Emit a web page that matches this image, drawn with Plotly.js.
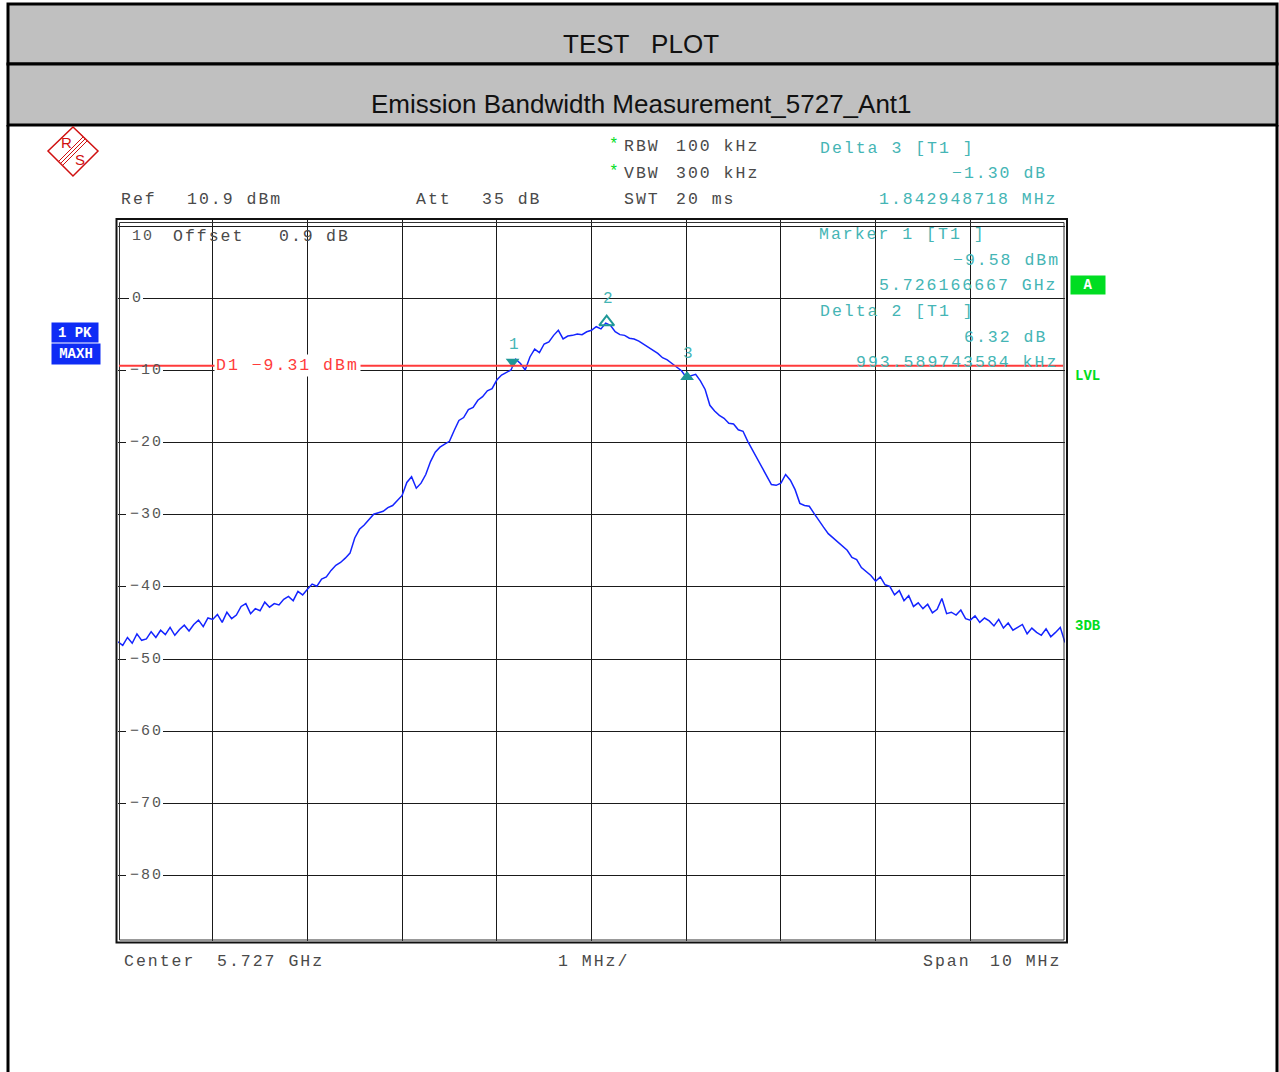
<!DOCTYPE html>
<html>
<head>
<meta charset="utf-8">
<script src="https://cdn.plot.ly/plotly-3.0.1.min.js"></script>
<style>
html, body { margin: 0; padding: 0; background: #fff; }
#chart { width: 1279px; height: 1072px; }
</style>
</head>
<body>
<div id="chart"></div>
<script>
// Sweep: frequency offset from centre (MHz) and peak-hold level (dBm)
const centerGHz = 5.727;
const offsetMHz = [
  -5.00, -4.95, -4.90, -4.85, -4.80, -4.75, -4.70, -4.65, -4.60, -4.55,
  -4.50, -4.45, -4.40, -4.35, -4.30, -4.25, -4.20, -4.15, -4.10, -4.05,
  -4.00, -3.95, -3.90, -3.85, -3.80, -3.75, -3.70, -3.65, -3.60, -3.55,
  -3.50, -3.45, -3.40, -3.35, -3.30, -3.25, -3.20, -3.15, -3.10, -3.05,
  -3.00, -2.95, -2.90, -2.85, -2.80, -2.75, -2.70, -2.65, -2.60, -2.55,
  -2.50, -2.45, -2.40, -2.35, -2.30, -2.25, -2.20, -2.15, -2.10, -2.05,
  -2.00, -1.95, -1.90, -1.85, -1.80, -1.75, -1.70, -1.65, -1.60, -1.55,
  -1.50, -1.45, -1.40, -1.35, -1.30, -1.25, -1.20, -1.15, -1.10, -1.05,
  -1.00, -0.95, -0.90, -0.85, -0.80, -0.75, -0.70, -0.65, -0.60, -0.55,
  -0.50, -0.45, -0.40, -0.35, -0.30, -0.25, -0.20, -0.15, -0.10, -0.05,
   0.00,  0.05,  0.10,  0.15,  0.20,  0.25,  0.30,  0.35,  0.40,  0.45,
   0.50,  0.55,  0.60,  0.65,  0.70,  0.75,  0.80,  0.85,  0.90,  0.95,
   1.00,  1.05,  1.10,  1.15,  1.20,  1.25,  1.30,  1.35,  1.40,  1.45,
   1.50,  1.55,  1.60,  1.65,  1.70,  1.75,  1.80,  1.85,  1.90,  1.95,
   2.00,  2.05,  2.10,  2.15,  2.20,  2.25,  2.30,  2.35,  2.40,  2.45,
   2.50,  2.55,  2.60,  2.65,  2.70,  2.75,  2.80,  2.85,  2.90,  2.95,
   3.00,  3.05,  3.10,  3.15,  3.20,  3.25,  3.30,  3.35,  3.40,  3.45,
   3.50,  3.55,  3.60,  3.65,  3.70,  3.75,  3.80,  3.85,  3.90,  3.95,
   4.00,  4.05,  4.10,  4.15,  4.20,  4.25,  4.30,  4.35,  4.40,  4.45,
   4.50,  4.55,  4.60,  4.65,  4.70,  4.75,  4.80,  4.85,  4.90,  4.95,
   5.00
];
const levelDbm = [
  -47.6, -48.1, -47.0, -47.8, -46.5, -47.4, -47.2, -46.2, -47.0, -46.0,
  -46.6, -45.6, -46.7, -45.9, -45.3, -46.1, -45.2, -44.6, -45.5, -44.3,
  -44.5, -43.8, -44.9, -43.5, -44.4, -43.9, -42.7, -42.3, -43.7, -43.0,
  -43.3, -42.1, -42.8, -42.3, -42.5, -41.7, -41.3, -41.9, -40.6, -41.1,
  -40.3, -39.6, -39.9, -38.9, -38.6, -37.7, -37.0, -36.6, -36.0, -35.3,
  -33.2, -32.0, -31.4, -30.6, -29.9, -29.7, -29.5, -29.0, -28.7, -28.0,
  -27.3, -25.5, -24.7, -26.3, -25.6, -24.4, -22.6, -21.3, -20.6, -20.2,
  -19.8, -18.3, -16.9, -16.5, -15.4, -15.1, -14.1, -13.6, -12.8, -12.5,
  -11.3, -10.6, -10.3, -9.9, -8.4, -9.0, -9.9, -8.1, -7.0, -7.5,
  -6.3, -6.0, -5.1, -4.4, -5.6, -5.2, -5.1, -4.9, -5.0, -4.6,
  -4.4, -3.9, -4.2, -3.4, -3.7, -4.6, -5.0, -5.1, -5.5, -5.6,
  -5.9, -6.3, -6.7, -7.1, -7.6, -8.2, -8.5, -9.0, -9.5, -10.0,
  -10.9, -10.7, -10.5, -11.4, -12.6, -14.8, -15.6, -16.2, -16.6, -17.3,
  -17.4, -18.2, -18.4, -19.8, -21.0, -22.3, -23.6, -24.6, -25.8, -25.9,
  -25.6, -24.4, -25.2, -26.5, -28.4, -28.7, -28.8, -29.8, -30.8, -31.7,
  -32.6, -33.2, -33.8, -34.3, -34.9, -35.9, -36.2, -37.3, -37.9, -38.4,
  -39.2, -38.6, -39.7, -39.9, -41.1, -40.5, -41.9, -41.2, -42.7, -42.2,
  -43.0, -42.4, -43.6, -43.1, -41.6, -43.7, -43.5, -43.9, -43.2, -44.4,
  -44.6, -44.0, -44.9, -44.3, -44.7, -45.4, -44.5, -45.7, -45.0, -46.0,
  -45.6, -45.2, -46.5, -45.7, -46.3, -46.7, -45.8, -46.9, -46.3, -45.6,
  -47.7
];

// Display settings
const refLevel = 10.9;
const bottomLevel = -89.1;
const spanMHz = 10;
const displayLine = -9.31;
const yTickVals = [10, 0, -10, -20, -30, -40, -50, -60, -70, -80];
const yTickText = ['10', '0', '\u221210', '\u221220', '\u221230', '\u221240', '\u221250', '\u221260', '\u221270', '\u221280'];

// Markers
const marker1 = { fGHz: 5.726166667, dbm: -9.58 };
const delta2 = { dfMHz: 0.993589743584, ddb: 6.32 };
const delta3 = { dfMHz: 1.842948718, ddb: -1.30 };

const freqGHz = offsetMHz.map(o => centerGHz + o / 1000);
const m2 = { fGHz: marker1.fGHz + delta2.dfMHz / 1000, dbm: marker1.dbm + delta2.ddb };
const m3 = { fGHz: marker1.fGHz + delta3.dfMHz / 1000, dbm: marker1.dbm + delta3.ddb };

// Page geometry (pixels) and conversion to paper coordinates
const W = 1279, H = 1072;
const L = 118, R = 1065, T = 220, B = 941;
const px = x => (x - L) / (R - L);
const py = y => (B - y) / (B - T);

const MONO = 'Liberation Mono, Courier New, monospace';
const SANS = 'Liberation Sans, Arial, sans-serif';
const GREY = '#4a4a4a';
const TEAL = '#45b5b5';
const TEAL_DARK = '#1f9898';
const RED = '#ff3b3b';
const GREEN = '#00dd22';
const BLUE = '#0f2cf5';

const sp = s => '<span style="letter-spacing:2px">' + s + '</span>';

function txt(text, x, y, opt) {
  opt = opt || {};
  return Object.assign({
    text: text,
    xref: 'paper', yref: 'paper',
    x: px(x), y: py(y),
    xanchor: 'left', yanchor: 'middle',
    showarrow: false,
    font: { family: MONO, size: 16.5, color: GREY }
  }, opt);
}

const annotations = [
  // header titles
  txt('TEST\u00a0\u00a0\u00a0PLOT', 641, 44, { xanchor: 'center', font: { family: SANS, size: 26, color: '#111' } }),
  txt('Emission Bandwidth Measurement_5727_Ant1', 641, 104, { xanchor: 'center', font: { family: SANS, size: 26, color: '#111' } }),

  // instrument settings
  txt(sp('Ref'), 119, 199), txt(sp('10.9 dBm'), 185, 199),
  txt(sp('Att'), 414, 199), txt(sp('35 dB'), 480, 199),
  txt('*', 607, 145, { font: { family: MONO, size: 16, color: GREEN } }),
  txt('*', 607, 172, { font: { family: MONO, size: 16, color: GREEN } }),
  txt(sp('RBW'), 622, 146), txt(sp('100 kHz'), 674, 146),
  txt(sp('VBW'), 622, 173), txt(sp('300 kHz'), 674, 173),
  txt(sp('SWT'), 622, 199), txt(sp('20 ms'), 674, 199),
  txt(sp('Center'), 122, 961), txt(sp('5.727 GHz'), 215, 961),
  txt(sp('1 MHz/'), 556, 961),
  txt(sp('Span'), 921, 961), txt(sp('10 MHz'), 988, 961),
  txt(sp('Offset'), 171, 236), txt(sp('0.9'), 277, 236), txt(sp('dB'), 324, 236),

  // marker readouts
  txt(sp('Delta 3 [T1 ]'), 818, 148, { font: { family: MONO, size: 16.5, color: TEAL } }),
  txt(sp('\u22121.30 dB'), 1049, 173, { xanchor: 'right', font: { family: MONO, size: 16.5, color: TEAL } }),
  txt(sp('1.842948718 MHz'), 1060, 199, { xanchor: 'right', font: { family: MONO, size: 16.5, color: TEAL } }),
  txt(sp('Marker 1 [T1 ]'), 817, 234, { font: { family: MONO, size: 16.5, color: TEAL } }),
  txt(sp('\u22129.58 dBm'), 1062, 260, { xanchor: 'right', font: { family: MONO, size: 16.5, color: TEAL } }),
  txt(sp('5.726166667 GHz'), 1060, 285, { xanchor: 'right', font: { family: MONO, size: 16.5, color: TEAL } }),
  txt(sp('Delta 2 [T1 ]'), 818, 311, { font: { family: MONO, size: 16.5, color: TEAL } }),
  txt(sp('6.32 dB'), 1049, 337, { xanchor: 'right', font: { family: MONO, size: 16.5, color: TEAL } }),
  txt(sp('993.589743584 kHz'), 1060, 362, { xanchor: 'right', font: { family: MONO, size: 16.5, color: TEAL } }),

  // trace / status badges
  txt('<b>1 PK</b>', 75, 332, { xanchor: 'center', width: 46, height: 19, bgcolor: BLUE, borderpad: 0,
    font: { family: MONO, size: 14, color: '#fff' } }),
  txt('<b>MAXH</b>', 76, 354, { xanchor: 'center', width: 48, height: 20, bgcolor: BLUE, borderpad: 0,
    font: { family: MONO, size: 14, color: '#fff' } }),
  txt('<b>A</b>', 1088, 285, { xanchor: 'center', width: 34, height: 18, bgcolor: GREEN, borderpad: 0,
    font: { family: MONO, size: 14, color: '#fff' } }),
  txt('<b>LVL</b>', 1073, 376, { font: { family: MONO, size: 14, color: GREEN } }),
  txt('<b>3DB</b>', 1073, 626, { font: { family: MONO, size: 14, color: GREEN } }),

  // display line label
  txt(sp('D1 \u22129.31 dBm'), 214, 0, { yref: 'y', y: displayLine, bgcolor: '#fff', borderpad: 1,
    font: { family: MONO, size: 16.5, color: RED } }),

  // logo letters
  txt('R', 66, 142, { xanchor: 'center', font: { family: SANS, size: 15, color: '#d01010' } }),
  txt('S', 80, 159, { xanchor: 'center', font: { family: SANS, size: 15, color: '#d01010' } })
];

const shapes = [
  // header boxes
  { type: 'rect', xref: 'paper', yref: 'paper', x0: px(8), x1: px(1277), y0: py(64), y1: py(4),
    fillcolor: '#c0c0c0', line: { color: '#000', width: 3 }, layer: 'below' },
  { type: 'rect', xref: 'paper', yref: 'paper', x0: px(8), x1: px(1277), y0: py(125), y1: py(64),
    fillcolor: '#c0c0c0', line: { color: '#000', width: 3 }, layer: 'below' },
  { type: 'line', xref: 'paper', yref: 'paper', x0: px(8), x1: px(8), y0: py(125), y1: py(1080),
    line: { color: '#000', width: 3 } },
  { type: 'line', xref: 'paper', yref: 'paper', x0: px(1277), x1: px(1277), y0: py(125), y1: py(1080),
    line: { color: '#000', width: 3 } },

  // double frame round the graticule
  { type: 'rect', xref: 'paper', yref: 'paper', x0: px(116.5), x1: px(1067), y0: py(942.5), y1: py(219),
    line: { color: '#111', width: 2 } },
  { type: 'rect', xref: 'paper', yref: 'paper', x0: px(119.5), x1: px(1064), y0: py(940), y1: py(222.5),
    line: { color: '#333', width: 1 } },

  // logo
  { type: 'path', xref: 'paper', yref: 'paper',
    path: `M ${px(73)} ${py(127)} L ${px(98)} ${py(151)} L ${px(73)} ${py(176)} L ${px(48)} ${py(151)} Z`,
    line: { color: '#d01010', width: 1.5 } }
];
[-2, 0, 2].forEach(d => {
  shapes.push({ type: 'line', xref: 'paper', yref: 'paper',
    x0: px(85 + d), y0: py(139 + d), x1: px(61 + d), y1: py(163 + d),
    line: { color: '#d01010', width: 1 } });
});

// level scale written inside the grid: white gaps in the grid lines, then the numbers
yTickVals.forEach((v, i) => {
  const top = i === 0;
  const label = yTickText[i];
  if (!top) {
    const x0 = label.length === 1 ? 129 : 126;
    const x1 = label.length === 1 ? 143 : 163;
    shapes.push({ type: 'rect', xref: 'paper', yref: 'y', x0: px(x0), x1: px(x1),
      y0: v - 0.9, y1: v + 0.9, fillcolor: '#fff', line: { width: 0 }, layer: 'above' });
  }
  annotations.push({
    text: sp(label), xref: 'paper', yref: 'y',
    x: px(top ? 130 : (label.length === 1 ? 130 : 128)), y: v, yshift: top ? -10 : 0,
    xanchor: 'left', yanchor: 'middle', showarrow: false,
    font: { family: MONO, size: 15, color: '#555' }
  });
});

// display line D1 (drawn over the scale gaps)
shapes.push({ type: 'line', xref: 'paper', yref: 'y', x0: px(119), x1: px(1063), y0: displayLine, y1: displayLine,
  line: { color: RED, width: 2 }, layer: 'above' });

// marker numbers
[[marker1, '1'], [m2, '2'], [m3, '3']].forEach(([m, n]) => {
  annotations.push({
    text: n, xref: 'x', yref: 'y', x: m.fGHz, y: m.dbm, yshift: 23, xshift: 1,
    showarrow: false, xanchor: 'center', yanchor: 'middle',
    font: { family: MONO, size: 16, color: TEAL }
  });
});

const traces = [
  {
    x: freqGHz, y: levelDbm, type: 'scatter', mode: 'lines',
    line: { color: '#1424ff', width: 1.5 }, hoverinfo: 'skip'
  },
  {
    x: [marker1.fGHz], y: [marker1.dbm], type: 'scatter', mode: 'markers',
    marker: { symbol: 'triangle-up', size: 12, color: TEAL_DARK, angle: 180, standoff: 6 }
  },
  {
    x: [m2.fGHz], y: [m2.dbm], type: 'scatter', mode: 'markers',
    marker: { symbol: 'triangle-up-open', size: 13, color: TEAL_DARK, line: { width: 2, color: TEAL_DARK } }
  },
  {
    x: [m3.fGHz], y: [m3.dbm], type: 'scatter', mode: 'markers',
    marker: { symbol: 'triangle-up', size: 12, color: TEAL_DARK }
  }
];

const layout = {
  width: W, height: H,
  margin: { l: L, r: W - R, t: T, b: H - B, pad: 0 },
  paper_bgcolor: '#fff', plot_bgcolor: '#fff',
  showlegend: false,
  xaxis: {
    range: [centerGHz - spanMHz / 2000, centerGHz + spanMHz / 2000],
    tick0: centerGHz - spanMHz / 2000, dtick: 0.001,
    showgrid: true, gridcolor: '#1a1a1a', gridwidth: 1,
    showticklabels: false, ticks: '', zeroline: false, showline: false
  },
  yaxis: {
    range: [bottomLevel, refLevel],
    tick0: 10, dtick: 10,
    showgrid: true, gridcolor: '#1a1a1a', gridwidth: 1,
    showticklabels: false, ticks: '', zeroline: false, showline: false
  },
  annotations: annotations,
  shapes: shapes
};

Plotly.newPlot('chart', traces, layout, { staticPlot: true, displayModeBar: false });
</script>
</body>
</html>
